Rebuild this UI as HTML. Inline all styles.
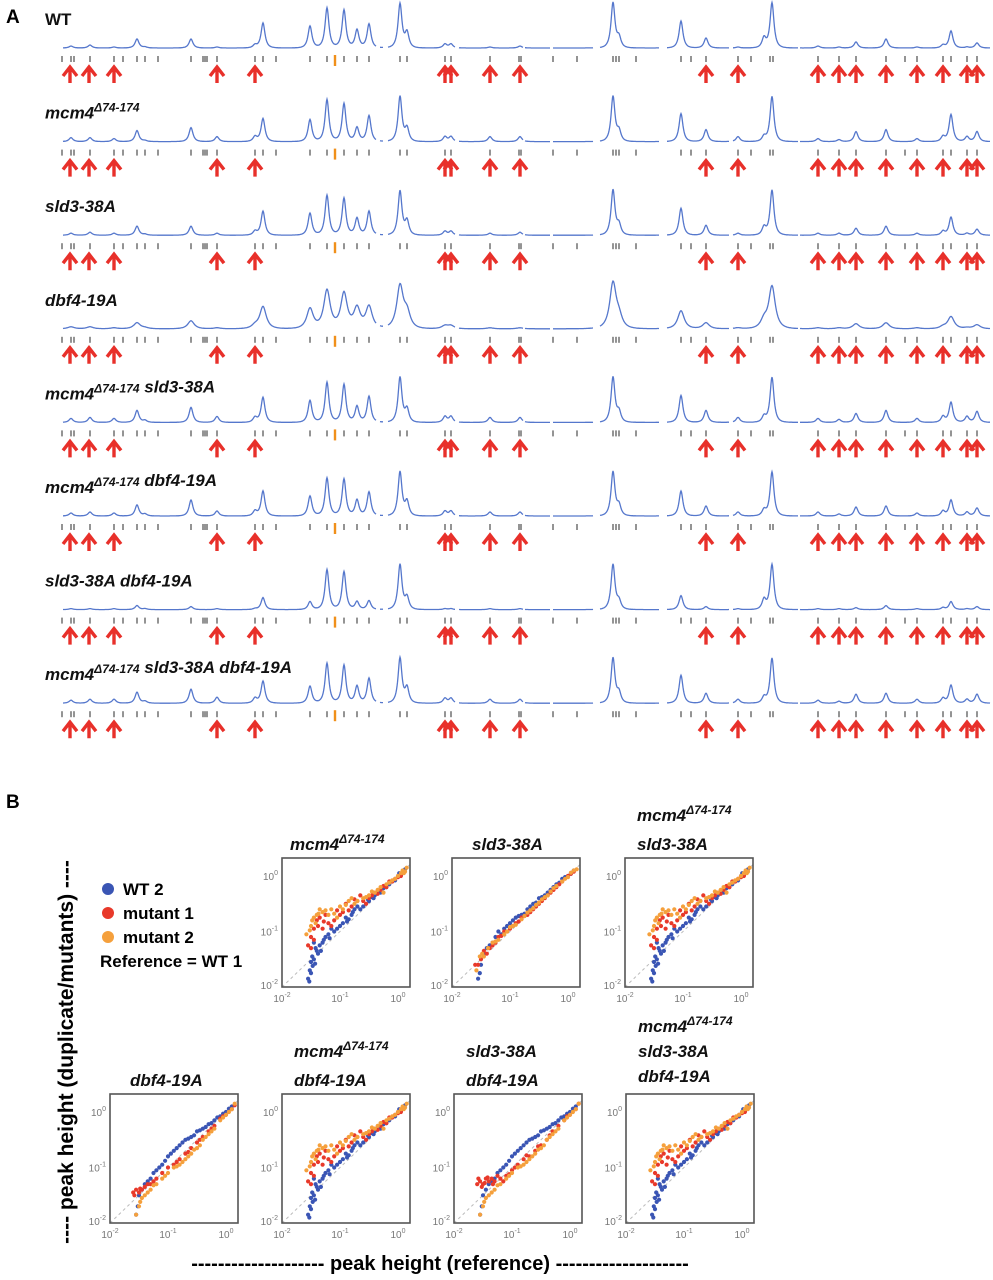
<!DOCTYPE html>
<html><head><meta charset="utf-8">
<style>
html,body{margin:0;padding:0;background:#fff;}
svg{display:block;font-family:"Liberation Sans",Arial,sans-serif;}
.lbl{font-weight:bold;font-style:italic;font-size:17px;fill:#111;}
.tk{font-size:10px;fill:#777;}
</style></head>
<body>
<svg id="fig" width="993" height="1280" viewBox="0 0 993 1280">
<text x="6" y="23" font-size="19" font-weight="bold">A</text>
<text x="6" y="808" font-size="19" font-weight="bold">B</text>
<g id="tracks"></g>
<g id="scatters"></g>
<g>
<circle cx="108" cy="889" r="6" fill="#3a55b4"/><text x="123" y="895" font-size="17" font-weight="bold">WT 2</text>
<circle cx="108" cy="913" r="6" fill="#e8392a"/><text x="123" y="919" font-size="17" font-weight="bold">mutant 1</text>
<circle cx="108" cy="937" r="6" fill="#f5a03c"/><text x="123" y="943" font-size="17" font-weight="bold">mutant 2</text>
<text x="100" y="967" font-size="17" font-weight="bold">Reference = WT 1</text>
</g>
<text transform="translate(73,1052) rotate(-90)" text-anchor="middle" font-size="21" font-weight="bold">---- peak height (duplicate/mutants) ----</text>
<text x="440" y="1270" text-anchor="middle" font-size="20" font-weight="bold">--------------------  peak height (reference)  --------------------</text>
</svg>
<script>
// ---------- Panel A data ----------
const rowNames = ["WT","mcm4","sld3-38A","dbf4-19A","mcm4 sld3-38A","mcm4 dbf4-19A","sld3-38A dbf4-19A","mcm4 sld3-38A dbf4-19A"];
const peakX = [71,90,114,137,145,191,217,255,263,310,327,344,357,369,400,407,445,451,490,520,613,619,681,706,738,764,772,818,839,856,886,917,943,951,967,977];
const hWT    = [2,3,1,9,1,9,1,3,25,22,40,38,18,24,44,15,4,4,1,2,45,10,27,10,1,10,45,2,1,6,9,1,3,17,1,5];
const hMcm4  = [4,4,3,11,1,14,5,5,23,22,42,38,14,26,45,13,5,5,5,5,45,10,28,12,5,5,45,3,2,10,12,3,5,27,5,10];
const hSld3  = [2,3,2,9,1,9,2,4,24,22,40,37,17,24,44,14,4,4,2,3,45,10,27,10,2,8,45,2,2,7,9,2,4,18,2,6];
const hDbf4  = [2,2,1,6,1,8,1,3,22,20,38,35,20,22,42,15,3,3,1,1,45,10,18,6,1,8,42,1,1,5,6,1,2,12,1,4];
const hMS    = [4,5,4,12,2,15,6,5,25,22,40,38,16,26,45,13,6,6,5,5,45,10,27,12,5,6,45,4,3,9,12,4,6,20,6,11];
const hMD    = [3,4,3,11,2,16,5,5,25,20,38,37,16,24,44,14,5,5,4,4,44,10,25,10,4,6,44,4,2,9,10,3,5,16,4,8];
const hSD    = [1,1,1,4,1,3,1,1,12,8,40,38,8,9,45,12,1,1,1,1,45,8,14,3,1,10,45,1,1,2,4,1,2,8,1,3];
const hMSD   = [3,4,4,11,2,14,6,5,22,17,40,38,17,25,45,15,5,5,4,4,45,10,28,10,4,6,45,3,2,9,10,4,5,18,4,9];
const rowHeights = [hWT,hMcm4,hSld3,hDbf4,hMS,hMD,hSD,hMSD];
const rowWidths = [2.4,2.4,2.4,4.0,2.4,2.4,2.4,2.4];
const segments = [[63,376],[380,383],[388,455],[459,523],[525,550],[553,593],[600,659],[667,729],[733,798],[800,990]];
const tickX = [62,71,74,90,114,123,137,145,158,191,203,205,207,217,255,263,276,310,327,344,357,369,400,407,445,451,490,519,521,553,577,613,616,619,636,681,691,706,738,751,770,773,818,839,856,886,905,917,943,951,967,977];
const orangeTickX = [335];
const arrowX = [70,89,114,217,255,445,451,490,520,706,738,818,839,856,886,917,943,967,977];

const NS="http://www.w3.org/2000/svg";
function mk(tag,attrs,parent){const e=document.createElementNS(NS,tag);for(const k in attrs)e.setAttribute(k,attrs[k]);parent.appendChild(e);return e;}
const tracks=document.getElementById('tracks');
const rowY0=48, rowGap=93.6;
rowNames.forEach((name,i)=>{
  const base=rowY0+i*rowGap;
  const g=mk('g',{},tracks);
  
  
  const t=mk('text',{x:45,y:base-23,class:'lbl'},g);
  
  
  const parts=name.split(' ');
  parts.forEach((p,j)=>{
    const pre=j>0?' ':'';
    if(p==='mcm4'){
      const a=document.createElementNS(NS,'tspan');a.textContent=pre+'mcm4';t.appendChild(a);
      const s=document.createElementNS(NS,'tspan');s.setAttribute('dy','-7');s.setAttribute('font-size','12');s.textContent='\u039474-174';t.appendChild(s);
      const r=document.createElementNS(NS,'tspan');r.setAttribute('dy','7');r.textContent='';t.appendChild(r);
    } else if(p==='WT'){
      const a=document.createElementNS(NS,'tspan');a.setAttribute('font-style','normal');a.textContent=pre+p;t.appendChild(a);
    } else {
      const a=document.createElementNS(NS,'tspan');a.textContent=pre+p;t.appendChild(a);
    }
  });
  const hs=rowHeights[i], w=rowWidths[i];
  segments.forEach(seg=>{
    let d='';
    for(let x=seg[0];x<=seg[1];x+=0.5){
      let y=0;
      for(let k=0;k<peakX.length;k++){const dx=(x-peakX[k])/w;y+=hs[k]/(1+dx*dx)/(1+0.05*dx*dx);}
      d+=(d?'L':'M')+x.toFixed(1)+','+(base-y).toFixed(1);
    }
    const p=mk('path',{d:d,fill:'none',stroke:'#5577cc','stroke-width':1.3},g);
    
    
  });
  tickX.forEach(x=>{
    const l=mk('line',{x1:x,x2:x,y1:base+8,y2:base+14,stroke:'#888','stroke-width':1.8},g);
    
    
  });
  orangeTickX.forEach(x=>{
    const l=mk('line',{x1:x,x2:x,y1:base+7,y2:base+18,stroke:'#f0901a','stroke-width':2.4},g);
    
    
  });
  arrowX.forEach(x=>{
    const a=mk('path',{d:`M${x},${base+35}L${x},${base+20}M${x-7},${base+28}L${x},${base+19}L${x+7},${base+28}`,fill:'none',stroke:'#e8302a','stroke-width':3.4},g);
    
    
  });
});

// ---------- Panel B data (log10 values) ----------
const plotTitlesAll = [["mcm4"],["sld3-38A"],["mcm4","sld3-38A"],["dbf4-19A"],["mcm4","dbf4-19A"],["sld3-38A","dbf4-19A"],["mcm4","sld3-38A","dbf4-19A"]];
const tickLabels = ["-2","-1","0"];
const tickVals = [-2,-1,0];
const wtDrop = [[-1.55,-1.85],[-1.52,-1.7],[-1.5,-1.55],[-1.48,-1.45],[-1.45,-1.5],[-1.42,-1.3],[-1.4,-1.35],[-1.35,-1.25],[-1.3,-1.2],[-1.25,-1.1],[-1.2,-1.05],[-1.1,-1.0],[-1.0,-0.9],[-0.9,-0.75],[-0.8,-0.7],[-0.7,-0.55],[-0.6,-0.55],[-0.5,-0.45],[-0.4,-0.35],[-0.3,-0.3],[-0.2,-0.2],[-0.1,-0.1],[0,0],[0.1,0.08],[-1.45,-1.2],[-1.15,-0.95],[-0.95,-0.85],[-0.75,-0.6],[-0.55,-0.5],[-0.35,-0.3],[-0.15,-0.15],[0.05,0.02],[-1.5,-1.75],[-1.38,-1.4],[-0.85,-0.78],[-0.45,-0.38],[-1.53,-1.9],[-1.47,-1.62],[-1.43,-1.58],[-1.33,-1.35],[-1.28,-1.15],[-1.18,-1.12],[-1.05,-0.95],[-0.88,-0.82],[-0.78,-0.65],[-0.65,-0.6],[-0.52,-0.42],[-0.42,-0.4],[-0.25,-0.22],[-0.05,-0.08],[0.12,0.12],[0.02,0.05]];
const wtDiag = [[-1.55,-1.85],[-1.5,-1.6],[-1.45,-1.4],[-1.4,-1.3],[-1.3,-1.2],[-1.2,-1.0],[-1.1,-0.95],[-1.0,-0.85],[-0.9,-0.75],[-0.8,-0.7],[-0.7,-0.6],[-0.6,-0.5],[-0.5,-0.4],[-0.4,-0.35],[-0.3,-0.25],[-0.2,-0.15],[-0.1,-0.05],[0,0],[0.1,0.1],[-1.25,-1.1],[-0.95,-0.8],[-0.65,-0.55],[-0.35,-0.3],[-0.05,-0.02],[-1.52,-1.75],[-1.35,-1.25],[-1.15,-1.05],[-1.05,-0.9],[-0.85,-0.72],[-0.75,-0.68],[-0.55,-0.48],[-0.45,-0.38],[-0.25,-0.2],[-0.15,-0.12],[0.05,0.04]];
const wtAbove = [[-1.55,-1.85],[-1.52,-1.7],[-1.5,-1.5],[-1.45,-1.4],[-1.4,-1.3],[-1.3,-1.2],[-1.2,-1.05],[-1.1,-0.95],[-1.0,-0.8],[-0.9,-0.7],[-0.8,-0.6],[-0.7,-0.5],[-0.6,-0.45],[-0.5,-0.35],[-0.4,-0.3],[-0.3,-0.22],[-0.2,-0.15],[-0.1,-0.08],[0,0],[0.1,0.1],[-0.75,-0.55],[-0.55,-0.42],[-0.25,-0.2],[-1.15,-1.0],[-1.35,-1.25],[-1.25,-1.1],[-1.05,-0.88],[-0.95,-0.75],[-0.85,-0.65],[-0.65,-0.48],[-0.45,-0.33],[-0.35,-0.27],[-0.15,-0.1],[-0.05,-0.03],[0.05,0.06]];
const m1Up = [[-1.55,-1.25],[-1.5,-1.1],[-1.45,-0.95],[-1.4,-0.8],[-1.35,-0.75],[-1.3,-0.95],[-1.2,-0.85],[-1.1,-0.8],[-1.0,-0.7],[-0.9,-0.5],[-0.8,-0.55],[-0.7,-0.45],[-0.6,-0.45],[-0.5,-0.4],[-0.4,-0.3],[-0.3,-0.25],[-0.2,-0.2],[-0.1,-0.1],[0,-0.02],[0.1,0.08],[-1.25,-0.7],[-0.65,-0.35],[-1.5,-1.3],[-0.85,-0.62],[-0.15,-0.1],[-1.45,-1.15],[-1.38,-0.9],[-1.28,-0.82],[-1.15,-0.9],[-1.05,-0.62],[-0.95,-0.65],[-0.75,-0.42],[-0.55,-0.5],[-0.45,-0.35],[-0.35,-0.32],[-0.25,-0.18],[-0.05,-0.05],[0.05,0.0]];
const m2Up = [[-1.58,-1.05],[-1.5,-0.9],[-1.45,-0.75],[-1.4,-0.7],[-1.3,-0.65],[-1.2,-0.7],[-1.15,-0.6],[-1.05,-0.75],[-0.95,-0.6],[-0.85,-0.45],[-0.75,-0.5],[-0.6,-0.4],[-0.5,-0.35],[-0.4,-0.3],[-0.3,-0.2],[-0.2,-0.15],[-0.1,-0.08],[0,0],[0.05,0.05],[0.15,0.15],[-1.35,-0.6],[-0.25,-0.3],[-1.42,-0.85],[-1.0,-0.55],[-0.05,-0.05],[0.1,0.05],[-1.52,-0.98],[-1.48,-0.8],[-1.37,-0.68],[-1.25,-0.62],[-1.1,-0.68],[-0.9,-0.52],[-0.8,-0.4],[-0.7,-0.45],[-0.55,-0.38],[-0.45,-0.28],[-0.35,-0.25],[-0.15,-0.12],[0.08,0.1],[0.12,0.08]];
const m1Diag = [[-1.6,-1.6],[-1.5,-1.5],[-1.45,-1.35],[-1.4,-1.4],[-1.3,-1.25],[-1.2,-1.1],[-1.1,-1.0],[-1.0,-0.95],[-0.9,-0.85],[-0.8,-0.75],[-0.7,-0.7],[-0.6,-0.6],[-0.5,-0.5],[-0.4,-0.4],[-0.3,-0.3],[-0.2,-0.2],[-0.1,-0.1],[0,0],[0.1,0.08],[-1.35,-1.3],[-0.85,-0.82],[-0.45,-0.45],[-1.55,-1.6],[-1.25,-1.2],[-1.15,-1.08],[-1.05,-1.0],[-0.95,-0.9],[-0.75,-0.72],[-0.65,-0.65],[-0.55,-0.55],[-0.35,-0.35],[-0.25,-0.25],[-0.15,-0.15],[0.05,0.04]];
const m2Diag = [[-1.58,-1.7],[-1.52,-1.45],[-1.45,-1.45],[-1.38,-1.3],[-1.3,-1.2],[-1.2,-1.15],[-1.1,-1.05],[-1.0,-0.92],[-0.9,-0.88],[-0.8,-0.78],[-0.7,-0.66],[-0.6,-0.58],[-0.5,-0.48],[-0.4,-0.38],[-0.3,-0.28],[-0.2,-0.18],[-0.1,-0.1],[0,-0.02],[0.1,0.1],[0.15,0.12],[-0.75,-0.72],[-0.35,-0.35],[-1.48,-1.4],[-1.25,-1.18],[-1.05,-1.0],[-0.95,-0.9],[-0.65,-0.62],[-0.55,-0.52],[-0.45,-0.42],[-0.25,-0.22],[-0.05,-0.05],[0.05,0.06]];
const m1Low = [[-1.6,-1.45],[-1.55,-1.4],[-1.5,-1.45],[-1.45,-1.4],[-1.4,-1.35],[-1.35,-1.3],[-1.3,-1.3],[-1.2,-1.2],[-1.1,-1.1],[-1.0,-1.0],[-0.9,-0.95],[-0.8,-0.85],[-0.7,-0.75],[-0.6,-0.65],[-0.5,-0.55],[-0.4,-0.45],[-0.3,-0.35],[-0.2,-0.25],[-0.1,-0.12],[0,-0.05],[0.1,0.05],[0.15,0.12],[-1.58,-1.5],[-1.48,-1.38],[-1.25,-1.25],[-0.85,-0.9],[-0.65,-0.72],[-0.45,-0.5],[-0.25,-0.3],[-0.05,-0.08]];
const m2Low = [[-1.55,-1.85],[-1.5,-1.7],[-1.45,-1.55],[-1.4,-1.5],[-1.3,-1.4],[-1.2,-1.3],[-1.1,-1.2],[-1.0,-1.1],[-0.9,-1.0],[-0.8,-0.95],[-0.7,-0.85],[-0.6,-0.75],[-0.5,-0.65],[-0.4,-0.5],[-0.3,-0.4],[-0.2,-0.3],[-0.1,-0.15],[0,-0.05],[0.1,0.05],[0.15,0.15],[-0.75,-0.9],[-0.45,-0.6],[-1.48,-1.62],[-1.35,-1.45],[-1.25,-1.32],[-1.05,-1.15],[-0.85,-0.98],[-0.65,-0.8],[-0.55,-0.68],[-0.35,-0.45],[-0.25,-0.35],[-0.05,-0.1],[0.05,0.0]];
const m1Flat = [[-1.6,-1.3],[-1.55,-1.25],[-1.5,-1.3],[-1.45,-1.2],[-1.4,-1.25],[-1.35,-1.2],[-1.3,-1.25],[-1.25,-1.15],[-1.2,-1.2],[-1.1,-1.15],[-1.0,-1.05],[-0.9,-0.95],[-0.8,-0.85],[-0.7,-0.8],[-0.6,-0.7],[-0.5,-0.6],[-0.4,-0.5],[-0.3,-0.35],[-0.2,-0.25],[-0.1,-0.15],[0,-0.05],[0.1,0.05],[0.15,0.15],[-1.15,-1.25],[-1.58,-1.2],[-1.52,-1.35],[-1.47,-1.28],[-1.42,-1.18],[-1.33,-1.3],[-1.05,-1.12],[-0.95,-1.0],[-0.75,-0.78],[-0.55,-0.62],[-0.35,-0.42],[-0.05,-0.08]];
const plotWT = [wtDrop,wtDiag,wtDrop,wtAbove,wtDrop,wtAbove,wtDrop];
const plotM1 = [m1Up,m1Diag,m1Up,m1Low,m1Up,m1Flat,m1Up];
const plotM2 = [m2Up,m2Diag,m2Up,m2Low,m2Up,m2Low,m2Up];
const plotBoxes = [[282,858],[452,858],[625,858],[110,1094],[282,1094],[454,1094],[626,1094]];
const titleLast = [850,850,850,1086,1086,1086,1082];

const sc=document.getElementById('scatters');
const BW=128,BH=129;
plotTitlesAll.forEach((titles,i)=>{
  const [bx,by]=plotBoxes[i];
  const xm=v=>bx+(v+2)*58;
  const ym=v=>by+BH-(v+2)*55.5;
  const g=mk('g',{},sc);
  
  
  const lineGap = titles.length===3?25:29;
  titles.forEach((tt,j)=>{
    const y=titleLast[i]-(titles.length-1-j)*lineGap;
    const t=mk('text',{x:bx+(i===3?20:(titles.length>1?12:(i===1?20:8))),y:y,class:'lbl','font-size':18},g);
    
    
    if(tt==='mcm4'){
      const a=document.createElementNS(NS,'tspan');a.textContent='mcm4';t.appendChild(a);
      const s=document.createElementNS(NS,'tspan');s.setAttribute('dy','-7');s.setAttribute('font-size','12');s.textContent='\u039474-174';t.appendChild(s);
    } else t.textContent=tt;
  });
  const clipId='c'+i;
  const cp=mk('clipPath',{id:clipId},g);mk('rect',{x:bx,y:by,width:BW,height:BH},cp);
  const inner=mk('g',{'clip-path':`url(#${clipId})`},g);
  mk('line',{x1:xm(-2),y1:ym(-2),x2:xm(0.4),y2:ym(0.4),stroke:'#bbb','stroke-dasharray':'3,3','stroke-width':1},inner);
  const series=[[plotWT[i],'#3a55b4'],[plotM1[i],'#e8392a'],[plotM2[i],'#f5a03c']];
  series.forEach(([pts,col])=>{
    pts.forEach(p=>{
      const c=mk('circle',{cx:xm(p[0]).toFixed(1),cy:ym(p[1]).toFixed(1),r:2.1,fill:col},inner);
      
      
    });
  });
  const box=mk('rect',{x:bx,y:by,width:BW,height:BH,fill:'none',stroke:'#555','stroke-width':1.6},g);
  
  
  tickVals.forEach((v,k)=>{
    const tx=mk('text',{x:xm(v),y:by+BH+15,class:'tk','text-anchor':'middle'},g);
    
    
    tx.innerHTML='10<tspan dy="-5" font-size="7">'+tickLabels[k]+'</tspan>';
    const ty=mk('text',{x:bx-4,y:ym(v)+(v===-2?2:4),class:'tk','text-anchor':'end'},g);
    
    
    ty.innerHTML='10<tspan dy="-5" font-size="7">'+tickLabels[k]+'</tspan>';
  });
});
</script>
</body></html>
